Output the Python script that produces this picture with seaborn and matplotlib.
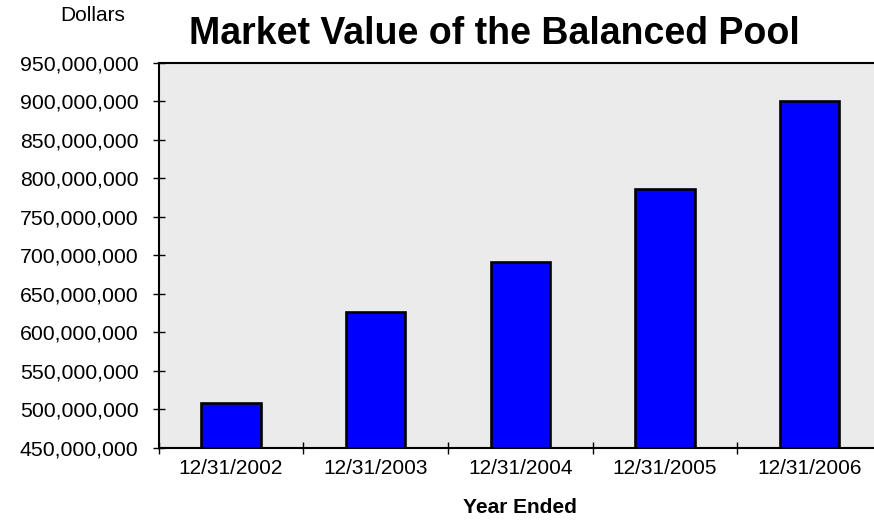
import numpy as np
import pandas as pd
import matplotlib
matplotlib.use("Agg")
import matplotlib.pyplot as plt
import matplotlib.ticker as mticker
import seaborn as sns

years = ["12/31/2002", "12/31/2003", "12/31/2004", "12/31/2005", "12/31/2006"]
market_value = [509_000_000, 626_000_000, 691_000_000, 786_000_000, 900_000_000]
y_ticks = list(range(450_000_000, 950_000_001, 50_000_000))

sns.set_theme(style="white")
plt.rcParams["font.family"] = ["Liberation Sans", "DejaVu Sans"]

df = pd.DataFrame({"year": years, "value": market_value})

fig = plt.figure(figsize=(8.74, 5.25), dpi=100)
ax = fig.add_axes([0.1815, 0.1467, 0.8277, 0.7333])
ax.set_facecolor("#ebebeb")

sns.barplot(data=df, x="year", y="value", color="#0000ff", saturation=1,
            width=0.41, edgecolor="black", linewidth=1.9, ax=ax)

ax.set_ylim(450_000_000, 950_000_000)
ax.set_xlim(-0.5, len(years) - 0.5)
ax.set_yticks(y_ticks)
ax.yaxis.set_major_formatter(mticker.FuncFormatter(lambda v, p: f"{int(v):,}"))

ax.set_xticks(range(len(years)))
ax.set_xticklabels(years)
ax.set_xticks(np.arange(-0.5, len(years)), minor=True)
ax.tick_params(axis="x", which="major", length=0, pad=8, labelsize=15, colors="black")
ax.tick_params(axis="x", which="minor", direction="inout", length=9, width=1, color="black", bottom=True)
ax.tick_params(axis="y", direction="inout", length=9, width=1, pad=10, labelsize=15.3,
               colors="black", left=True)

for side in ["left", "bottom", "top", "right"]:
    ax.spines[side].set_visible(True)
    ax.spines[side].set_color("black")
    ax.spines[side].set_linewidth(1.5)

ax.set_xlabel("Year Ended", fontsize=15, fontweight="bold", labelpad=14, color="black")
ax.set_ylabel("")
ax.grid(False)

fig.text(0.566, 0.935, "Market Value of the Balanced Pool", ha="center", va="center",
         fontsize=27, fontweight="bold", color="black")
fig.text(0.106, 0.97, "Dollars", ha="center", va="center", fontsize=15, color="black")

fig.savefig("out.png", dpi=100)
